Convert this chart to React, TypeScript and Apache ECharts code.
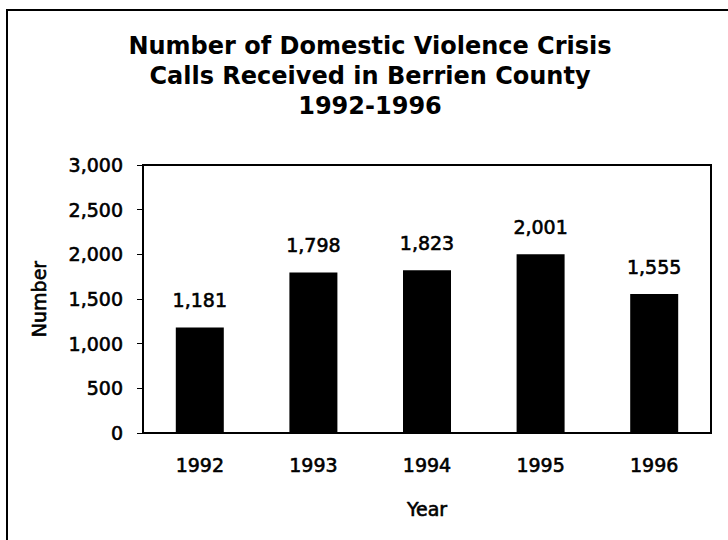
import React, { useEffect, useRef } from "react";
import * as echarts from "echarts";

const titleLines = [
  "Number of Domestic Violence Crisis",
  "Calls Received in Berrien County",
  "1992-1996",
];
const years = ["1992", "1993", "1994", "1995", "1996"];
const calls = [1181, 1798, 1823, 2001, 1555];
const yMin = 0;
const yMax = 3000;
const yStep = 500;
const xName = "Year";
const yName = "Number";

const FONT = "DejaVu Sans";
const heavy = { textBorderColor: "#000", textBorderWidth: 0.6 };

function fmt(v: number): string {
  return v.toLocaleString("en-US");
}

export default function App() {
  const ref = useRef<HTMLDivElement>(null);
  useEffect(() => {
    if (!ref.current) return;
    const chart = echarts.init(ref.current, null, { renderer: "svg" });
    chart.setOption({
      animation: false,
      backgroundColor: "#fff",
      title: {
        text: titleLines.join("\n"),
        left: 365,
        top: 26,
        textAlign: "center",
        textStyle: {
          fontFamily: FONT,
          fontWeight: "bold",
          fontSize: 24,
          lineHeight: 30,
          color: "#000",
        },
      },
      graphic: [
        {
          type: "rect",
          shape: { x: 7, y: 10, width: 800, height: 600 },
          style: { fill: "none", stroke: "#000", lineWidth: 2 },
          silent: true,
        },
      ],
      grid: {
        left: 143,
        top: 165,
        right: 17,
        bottom: 107,
        show: true,
        borderColor: "#000",
        borderWidth: 2,
        backgroundColor: "transparent",
      },
      xAxis: {
        type: "category",
        data: years,
        name: xName,
        nameLocation: "middle",
        nameGap: 66,
        nameTextStyle: { fontFamily: FONT, fontSize: 19, color: "#000", ...heavy },
        axisLine: { show: true, lineStyle: { color: "#000", width: 2 } },
        axisTick: { show: false },
        axisLabel: { fontFamily: FONT, fontSize: 19, color: "#000", margin: 22, ...heavy },
        splitLine: { show: false },
      },
      yAxis: {
        type: "value",
        min: yMin,
        max: yMax,
        interval: yStep,
        name: yName,
        nameLocation: "middle",
        nameGap: 95,
        nameTextStyle: { fontFamily: FONT, fontSize: 19, color: "#000", ...heavy },
        axisLine: { show: true, lineStyle: { color: "#000", width: 2 } },
        axisTick: { show: true, inside: false, length: 6, lineStyle: { color: "#000", width: 1 } },
        axisLabel: {
          fontFamily: FONT,
          fontSize: 19,
          color: "#000",
          margin: 20,
          ...heavy,
          formatter: (v: number) => fmt(v),
        },
        splitLine: { show: false },
      },
      series: [
        {
          type: "bar",
          data: calls,
          barWidth: 48,
          itemStyle: { color: "#000" },
          label: {
            show: true,
            position: "top",
            distance: 18,
            fontFamily: FONT,
            fontSize: 19,
            color: "#000",
            ...heavy,
            formatter: (p: any) => fmt(p.value),
          },
        },
      ],
    });
    return () => chart.dispose();
  }, []);
  return (
    <div
      ref={ref}
      style={{ position: "absolute", left: 0, top: 0, width: 728, height: 540 }}
    />
  );
}
